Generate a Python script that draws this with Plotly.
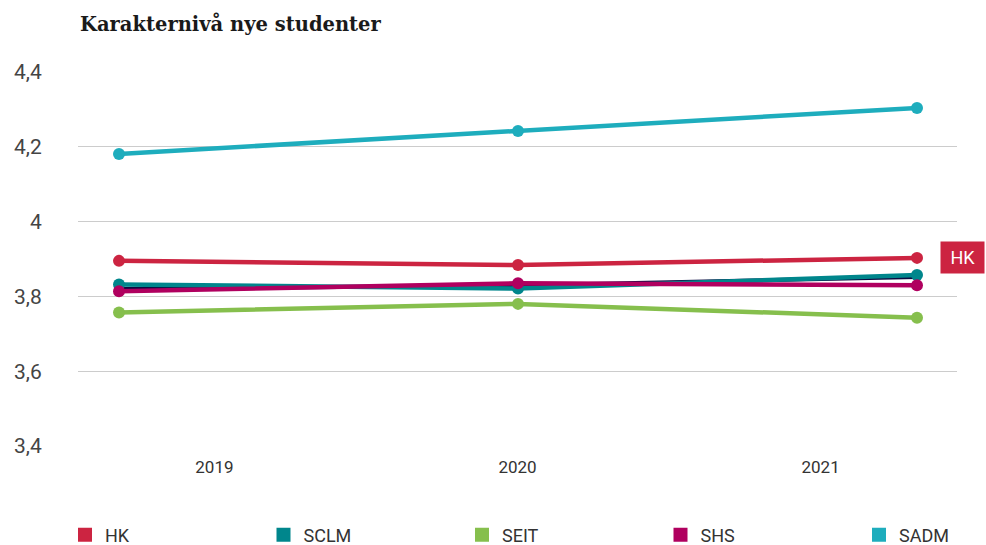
import plotly.graph_objects as go

years = [2019, 2020, 2021]
year_labels = ["2019", "2020", "2021"]

hk = [3.895, 3.884, 3.903]
sclm = [3.832, 3.821, 3.857]
seit = [3.757, 3.780, 3.743]
shs = [3.814, 3.835, 3.830]
sadm = [4.181, 4.242, 4.304]
snitt = [3.820, 3.829, 3.852]

series = [
    ("HK", hk, "#cc2441"),
    ("SCLM", sclm, "#00868c"),
    ("SEIT", seit, "#86bf4d"),
    ("SHS", shs, "#b0005f"),
    ("SADM", sadm, "#1eadbd"),
]

W, H = 986, 545
ML, MR, MT, MB = 78, 29, 72, 99
PW = W - ML - MR

fig = go.Figure()

# dark average line (no markers, no legend)
fig.add_trace(go.Scatter(x=years, y=snitt, mode="lines", line=dict(color="#0c0a40", width=4),
                         showlegend=False, hoverinfo="skip"))

draw_order = ["SCLM", "SEIT", "SHS", "HK", "SADM"]
lookup = {n: (v, c) for n, v, c in series}
for name in draw_order:
    vals, col = lookup[name]
    fig.add_trace(go.Scatter(x=years, y=vals, mode="lines+markers", name=name,
                             line=dict(color=col, width=4.5),
                             marker=dict(color=col, size=12),
                             showlegend=False, cliponaxis=False))

# legend entries (square swatches), one legend per entry so they can be spaced evenly
legend_layout = {}
for i, (name, vals, col) in enumerate(series):
    key = "legend" if i == 0 else f"legend{i + 1}"
    fig.add_trace(go.Scatter(x=[None], y=[None], mode="markers", name=name,
                             marker=dict(color=col, symbol="square", size=14),
                             showlegend=True, legend=key))
    left_px = 65 + i * 198.5
    legend_layout[key] = dict(
        orientation="h", x=(left_px - ML) / PW, xanchor="left",
        y=-(535 - (H - MB)) / (H - MT - MB), yanchor="middle",
        font=dict(family="Roboto", size=18, color="#333"), itemwidth=30,
        bgcolor="rgba(0,0,0,0)",
    )

# category axis carrying the year labels
fig.add_trace(go.Scatter(x=year_labels, y=[None, None, None], xaxis="x2", mode="markers",
                         showlegend=False, hoverinfo="skip"))

fig.add_annotation(x=1.0, xref="paper", y=hk[-1], yref="y", text=" HK ", showarrow=False,
                   xanchor="left", xshift=-17, yshift=0,
                   font=dict(color="white", size=18, family="Roboto"),
                   bgcolor="#cc2441", borderpad=5)

fig.update_layout(
    width=W, height=H,
    margin=dict(l=ML, r=MR, t=MT, b=MB, autoexpand=False),
    paper_bgcolor="white", plot_bgcolor="white",
    separators=", ",
    title=dict(text="<b>Karakternivå nye studenter</b>", x=80 / W, xref="container", xanchor="left",
               y=1 - 24 / H, yref="container", yanchor="middle", pad=dict(l=0, t=0, b=0, r=0),
               font=dict(family="DejaVu Serif", size=19.5, color="#1a1a1a")),
    xaxis=dict(range=[2019 - 41 / 399, 2021 + 40 / 399], visible=False),
    xaxis2=dict(overlaying="x", type="category", range=[-0.45, 2.45], side="bottom",
                showgrid=False, zeroline=False, showline=False, ticks="outside", ticklen=6,
                tickcolor="rgba(0,0,0,0)",
                tickfont=dict(family="Roboto", size=17, color="#333")),
    yaxis=dict(range=[3.4, 4.4], dtick=0.2, tick0=3.4, showgrid=True, gridcolor="#cccccc",
               zeroline=False, showline=False, ticks="outside", ticklen=31,
               tickcolor="rgba(0,0,0,0)",
               tickfont=dict(family="Roboto", size=21, color="#444")),
    hovermode=False,
    **legend_layout,
)

fig.write_html("out.html", config={"displayModeBar": False},
               post_script="document.body.style.margin='0';document.body.style.overflow='hidden';")
